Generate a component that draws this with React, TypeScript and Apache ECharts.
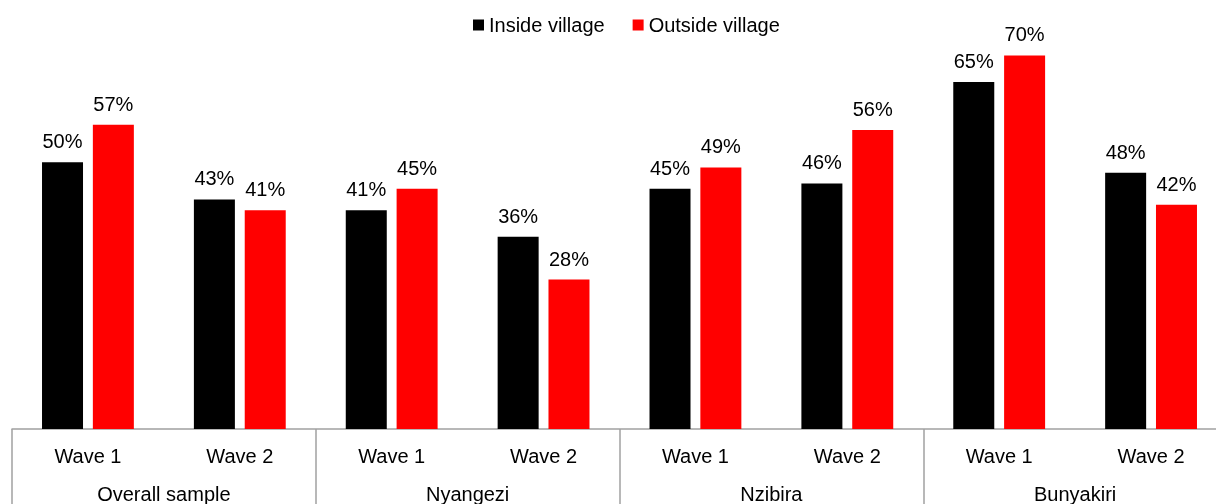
import React, { useEffect, useRef } from "react";
import * as echarts from "echarts";

const waves = ["Wave 1", "Wave 2", "Wave 1", "Wave 2", "Wave 1", "Wave 2", "Wave 1", "Wave 2"];
const regions = ["Overall sample", "Nyangezi", "Nzibira", "Bunyakiri"];
const insideVillage = [50, 43, 41, 36, 45, 46, 65, 48];
const outsideVillage = [57, 41, 45, 28, 49, 56, 70, 42];

const FONT = "Liberation Sans";

export default function App() {
  const ref = useRef<HTMLDivElement>(null);
  useEffect(() => {
    if (!ref.current) return;
    const chart = echarts.init(ref.current, undefined, { renderer: "svg" });
    const label = {
      show: true,
      position: "top" as const,
      distance: 11,
      formatter: "{c}%",
      color: "#000",
      fontFamily: FONT,
      fontSize: 20,
    };
    chart.setOption({
      animation: false,
      legend: {
        left: 473,
        top: 15,
        padding: 0,
        itemWidth: 11,
        itemHeight: 11,
        itemGap: 28,
        icon: "rect",
        textStyle: { color: "#000", fontFamily: FONT, fontSize: 20 },
        data: ["Inside village", "Outside village"],
      },
      grid: { left: 12, right: 0, top: 2, bottom: 71, containLabel: false },
      yAxis: {
        type: "value",
        min: 0,
        max: 80,
        show: false,
      },
      xAxis: [
        {
          type: "category",
          data: waves,
          position: "bottom",
          offset: 0,
          axisLine: { show: false },
          axisTick: { show: false },
          axisLabel: { margin: 17, color: "#000", fontFamily: FONT, fontSize: 20 },
        },
        {
          type: "category",
          data: regions,
          position: "bottom",
          offset: 0,
          axisLine: { show: true, lineStyle: { color: "#a0a0a0", width: 1.5 } },
          axisTick: { show: true, length: 90, lineStyle: { color: "#a0a0a0", width: 1.5 } },
          axisLabel: { margin: 55, color: "#000", fontFamily: FONT, fontSize: 20 },
        },
      ],
      series: [
        {
          name: "Inside village",
          type: "bar",
          xAxisIndex: 0,
          data: insideVillage,
          barWidth: 41,
          barGap: "24%",
          itemStyle: { color: "#000000" },
          label,
        },
        {
          name: "Outside village",
          type: "bar",
          xAxisIndex: 0,
          data: outsideVillage,
          barWidth: 41,
          barGap: "24%",
          itemStyle: { color: "#ff0000" },
          label,
        },
      ],
    });
    return () => chart.dispose();
  }, []);
  return (
    <div style={{ position: "fixed", left: 0, top: 0, width: 1216, height: 504, overflow: "hidden" }}>
      <div ref={ref} style={{ width: 1227, height: 504 }} />
    </div>
  );
}
